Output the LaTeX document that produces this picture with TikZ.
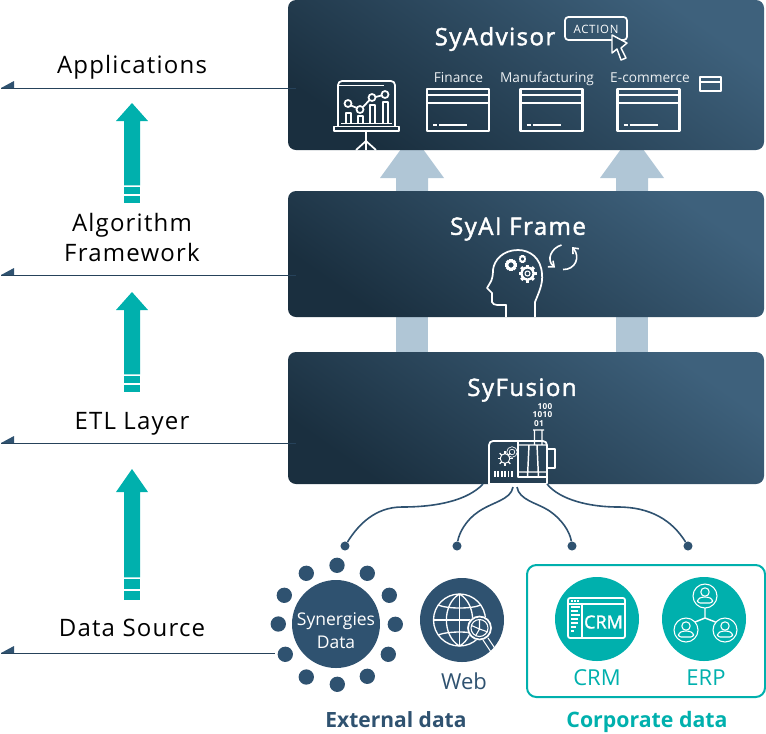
\documentclass[tikz,border=0pt]{standalone}
\usepackage{fontspec}
\setmainfont{Open Sans}
\newfontfamily\spaced[LetterSpace=5]{Open Sans}
\newfontfamily\spacedm[LetterSpace=6,FakeBold=1.8]{Open Sans}
\usetikzlibrary{calc,arrows.meta}
\definecolor{teal1}{HTML}{00B0AD}
\definecolor{navy}{HTML}{2F5270}
\definecolor{pale}{HTML}{B0C6D6}
\definecolor{paneld}{HTML}{1A2F3F}
\definecolor{panell}{HTML}{3E617C}
\newcommand{\px}[1]{\fontsize{\dimexpr #1pt*3/4\relax}{\dimexpr #1pt*9/10\relax}\selectfont}
\tikzset{
  x=0.75pt,y=-0.75pt,
  panel/.style={rounded corners=6pt,top color=panell,bottom color=paneld,shading angle=-35},
  pal/.style={fill=pale,draw=none},
  upar/.style={fill=teal1,draw=none},
  lay/.style={text=black,font=\spaced\px{24},align=center,inner sep=0,anchor=center},
  leader/.style={draw=navy!80!black,line width=0.9pt},
  wedge/.style={fill=navy,draw=none},
  wl/.style={draw=white,line width=1.3pt,line join=round},
  wm/.style={draw=white,line width=0.8pt,line join=round},
  cap1/.style={text=white,font=\spacedm\px{24},inner sep=0},
  sub1/.style={text=white!90!navy,font=\px{13.7},inner sep=0,anchor=base},
  link/.style={draw=navy,line width=1.2pt},
  dot1/.style={circle,fill=navy,minimum size=6.8pt,inner sep=0,draw=none},
  sat/.style={circle,fill=navy,minimum size=11.5pt,inner sep=0,draw=none},
  big/.style={circle,inner sep=0,draw=none},
  bits/.style={text=white,font=\bfseries\addfontfeature{LetterSpace=4}\px{8.2},inner sep=0},
}
\newcommand{\winicon}[1]{%
  \draw[wl,line width=1.6pt] (#1,89) rectangle ++(62,42);
  \draw[wm,line width=1.1pt] (#1,95) -- ++(62,0) (#1,103) -- ++(62,0);
  \draw[wm,line width=1.2pt] (#1+6,125) -- ++(4,0) (#1+12,125) -- ++(28,0);
}
\newcommand{\upteal}[5]{% tip, base, gap1, gap2, end
  \fill[upar] (132,#1) -- (148,#2) -- (140,#2) -- (140,#3-0.7) -- (124,#3-0.7) -- (124,#2) -- (116,#2) -- cycle;
  \fill[upar] (124,#3+1) rectangle (140,#4-1);
  \fill[upar] (124,#4+1) rectangle (140,#5);
}
\newcommand{\wedgeat}[1]{\fill[wedge] (1,#1) -- (14,#1-7) -- (14,#1) -- cycle;}
\newcommand{\geartooth}[4]{% x,y,r,width
  \draw[white,line width=#4] (#1,#2) circle (#3);
  \foreach \a in {0,45,...,315}{\draw[white,line width=#4*1.4] ($(#1,#2)+(\a:#3)$) -- ($(#1,#2)+(\a:#3*1.5)$);}
}
\newcommand{\person}[2]{%
  \draw[wm] (#1,#2) circle (12);
  \draw[wm] (#1,#2-4) circle (4.2);
  \draw[wm,rounded corners=2pt] (#1-7.5,#2+7) -- (#1-7.5,#2+3) -- (#1-3,#2+1) -- (#1+3,#2+1) -- (#1+7.5,#2+3) -- (#1+7.5,#2+7) -- cycle;
}
\begin{document}
\begin{tikzpicture}
\useasboundingbox (0,0) rectangle (766,733);
% pale arrows
\fill[pal] (412,134) -- (444,178) -- (428,178) -- (428,200) -- (396,200) -- (396,178) -- (380,178) -- cycle;
\fill[pal] (632,134) -- (664,178) -- (648,178) -- (648,200) -- (616,200) -- (616,178) -- (600,178) -- cycle;
\fill[pal] (396,310) rectangle (428,360);
\fill[pal] (616,310) rectangle (648,360);
% leader lines
\coordinate (l1) at (1,88.5); \coordinate (r1) at (296,88.5);
\coordinate (l2) at (1,275.5); \coordinate (r2) at (296,275.5);
\coordinate (l3) at (1,443.5); \coordinate (r3) at (296,443.5);
\coordinate (l4) at (1,653.5); \coordinate (r4) at (275,653.5);
% panels
\shade[panel] (288,0) rectangle (764,150);
\shade[panel] (288,191) rectangle (764,317);
\shade[panel] (288,352) rectangle (764,484);
\draw[leader] (l1) -- (r1); \wedgeat{88}
\draw[leader] (l2) -- (r2); \wedgeat{275}
\draw[leader] (l3) -- (r3); \wedgeat{443}
\draw[leader] (l4) -- (r4); \wedgeat{653}
% layer labels
\node[lay] (applications) at (132,67.5) {Applications};
\node[lay] (algorithm) at (132,225) {Algorithm};
\node[lay] (framework) at (132,252) {Framework};
\node[lay] (etl) at (132,424) {ETL Layer};
\node[lay] (datasource) at (132,628) {Data Source};
\upteal{103}{121}{186}{195}{203}
\upteal{292}{310}{375}{384}{392}
\upteal{469}{492}{578}{590}{600}
% SyAdvisor
\node[cap1] (syadvisor) at (495,39) {SyAdvisor};
\draw[wl,rounded corners=2.5pt] (565,17) rectangle (627,40);
\node[text=white,font=\addfontfeature{LetterSpace=6}\px{11.5},inner sep=0] (action) at (596,29) {ACTION};
\draw[wl,fill=paneld!50!panell,line width=1.1pt] (612,35) -- (612,53) -- (617,49) -- (621,60) -- (626,58) -- (621,48) -- (627,43) -- cycle;
\node[sub1] (finance) at (458.5,82) {Finance};
\node[sub1] (manufacturing) at (547,82) {Manufacturing};
\node[sub1] (ecommerce) at (650,82) {E-commerce};
\winicon{427} \winicon{520.5} \winicon{617.5}
\draw[wl,line width=1.5pt] (700,77) rectangle (721,91);
\draw[wm] (700,82) -- (721,82);
% presentation board
\draw[wl] (338,126) -- (338,85) arc[start angle=180,end angle=270,radius=4] -- (391,81) arc[start angle=-90,end angle=0,radius=4] -- (395,126);
\draw[wm] (338,85.5) -- (384,85.5);
\draw[wl] (334,126.5) rectangle (399,131);
\draw[wl] (366,131) -- (366,141) (366,141) -- (356,150) (366,141) -- (376,150) (366,141) -- (366,150);
\draw[wm,line width=1.1pt] (341,123.5) -- (392,123.5);
\draw[wm,line width=1.1pt] (346,123) -- (346,113) -- (351,113) -- (351,123);
\draw[wm,line width=1.1pt] (358,123) -- (358,116) -- (363,116) -- (363,123);
\draw[wm,line width=1.1pt] (370,123) -- (370,105) -- (375,105) -- (375,123);
\draw[wm,line width=1.1pt] (383,123) -- (383,102) -- (388,102) -- (388,123);
\draw[wl] (348,103.5) circle (3.5) (360,109.5) circle (3.5) (372,97.5) circle (3.5) (385,94.5) circle (3.5);
\draw[wl] (351,105.5) -- (357,108) (363,107) -- (369.5,100) (375.5,97) -- (381.5,95.5);
% SyAI Frame
\node[cap1] (syai) at (518,229) {SyAI Frame};
\draw[wl] (535,317) -- (535,302) .. controls (539,292) and (543,284) .. (542,274) .. controls (541,258) and (530,250) .. (518,250) .. controls (503,250) and (494,260) .. (493,270) .. controls (493,276) and (492,280) .. (490,283) -- (487,288) -- (492,293) -- (492,302) .. controls (493,306) and (500,305) .. (506,305) -- (506,317);
\geartooth{511}{265}{4}{1.8pt}
\geartooth{527.5}{273.5}{6}{1.7pt}
\draw[wm] (527.5,273.5) circle (2.5);
\geartooth{522.5}{259}{2.5}{1.1pt}
\draw[wl,line width=1.2pt,-{Straight Barb[length=3.5pt,width=6pt]}] (561.5,245) .. controls (551,248) and (546,260) .. (555,267.5);
\draw[wl,line width=1.2pt,-{Straight Barb[length=3.5pt,width=6pt]}] (563,269.5) .. controls (575,270) and (581,257) .. (572,247);
% SyFusion
\node[cap1] (syfusion) at (522,390) {SyFusion};
\node[bits] (bits1) at (545,407) {100};
\node[bits] (bits2) at (542.5,415) {1010};
\node[bits] (bits3) at (539,423.5) {01};
\coordinate (m1) at (483,484); \coordinate (m2) at (513,487); \coordinate (m3) at (517,487); \coordinate (m4) at (547,484);
\draw[wl] (489,484) -- (489,445) arc[start angle=180,end angle=270,radius=4] -- (543,441) arc[start angle=-90,end angle=0,radius=4] -- (547,484) -- cycle;
\draw[wm,line width=1.1pt] (518,441) -- (518,477) -- (547,477);
\draw[wl,line width=1.1pt] (547,449) -- (555,449) -- (555,468) -- (547,468);
\draw[wl,line width=1.1pt] (533,430) -- (544,430) (534.5,430) -- (534.5,445) (542,430) -- (542,445) (518,445) -- (547,445) (518,472) -- (547,472) (529,445) -- (527.5,477) (537,445) -- (538.5,477);
\draw[white,line width=0.7pt] (505,458.5) circle (4.8);
\foreach \a in {0,45,...,315}{\draw[white,line width=1pt] ($(505,458.5)+(\a:4.8)$) -- ($(505,458.5)+(\a:7.5)$);}
\draw[white,line width=0.5pt] (512,452) circle (2.8) (512,452) circle (5.3);
\foreach \q in {494,497.4,...,512}{\fill[white] (\q,470.5) rectangle (\q+1.8,477);}
% data sources
\node[big,fill=navy,minimum size=66pt] (syn) at (336,624) {};
\node[text=white,font=\px{17.5},inner sep=0,anchor=base] (syn1) at (336,625) {Synergies};
\node[text=white,font=\px{17.5},inner sep=0,anchor=base] (syn2) at (336,648) {Data};
\foreach \n/\x/\y in {a/337/565.3,b/367.3/573.3,c/389.3/595.3,d/395.3/624.3,e/388.3/654.3,f/367.3/676.3,g/337.3/684.3,h/306.3/677,i/285.3/654.3,j/278.3/624,k/284.3/595.3,l/306.3/573.3}
  {\node[sat] (sat\n) at (\x,\y) {};}
\node[big,fill=navy,minimum size=63pt] (web) at (462,620) {};
\draw[wm,line width=1pt] (459.5,620) circle (26);
\draw[wm,line width=1pt] (459.5,594) .. controls (442,604) and (442,636) .. (459.5,646);
\draw[wm,line width=1pt] (459.5,594) .. controls (477,604) and (477,636) .. (459.5,646);
\draw[wm,line width=1pt] (459.5,594) -- (459.5,646);
\draw[wm,line width=1.4pt] (433.5,620) -- (485.5,620);
\draw[wm,line width=1pt] (438,605) .. controls (448,609) and (471,609) .. (481,605);
\draw[wm,line width=1pt] (438,635) .. controls (448,631) and (471,631) .. (481,635);
\fill[navy] (479.5,628) circle (12.5);
\draw[wl] (479.5,628) circle (11.5);
\draw[wm] (479.5,628) circle (8.5);
\draw[wm] (471.5,625.5) -- (479.5,629) -- (488,632) (479.5,629) -- (479.5,620) (479.5,629) -- (475.5,636);
\draw[wm] (483,640) -- (491,652) (488,638) -- (496,650);
\node[text=navy,font=\px{22},inner sep=0] (weblbl) at (464,681) {Web};
\node[text=navy,font=\bfseries\px{21},inner sep=0] (external) at (396,720) {External data};
% corporate
\node[draw=teal1,line width=1.5pt,rounded corners=7pt,minimum width=178.5pt,minimum height=99pt,inner sep=0,fill=none] (corp) at (646,631) {};
\node[big,fill=teal1,minimum size=63pt] (crm) at (597,619) {};
\node[big,fill=teal1,minimum size=63pt] (erp) at (704,619) {};
\draw[wl,rounded corners=1.5pt] (568,598) rectangle (625,638);
\draw[wm,line width=1.1pt] (568,604) -- (625,604) (582,604) -- (582,638);
\foreach \q/\w in {607/9,611/7,615/9,619/7,623/7,627/5,631/3}{\draw[wm,line width=1.1pt] (571,\q) -- ++(\w,0);}
\foreach \q in {571,574,577}{\fill[white] (\q,600) rectangle ++(1.7,1.7);}
\node[text=white,font=\addfontfeature{FakeBold=1.5}\px{18},inner sep=0] (crmtxt) at (603.5,622) {CRM};
\person{705}{596}\person{686}{630}\person{725}{630}
\coordinate (joint) at (705,618);
\draw[wm,line width=1.1pt] (705,608) -- (joint) (joint) -- (695,622) (joint) -- (715.5,622);
\node[text=teal1,font=\px{22},inner sep=0] (crmlbl) at (597,678) {CRM};
\node[text=teal1,font=\px{22},inner sep=0] (erplbl) at (706,678) {ERP};
\node[text=teal1,font=\bfseries\px{21.3},inner sep=0] (corplbl) at (647,722) {Corporate data};
% connector dots and curves
\node[dot1] (d1) at (345,546) {};
\node[dot1] (d2) at (457,546) {};
\node[dot1] (d3) at (572,546) {};
\node[dot1] (d4) at (688,546) {};
\draw[link] (m1) .. controls (468,500) and (438,507) .. (402,507) .. controls (375,507) and (358,525) .. (d1);
\draw[link] (m2) .. controls (511,500) and (492,502) .. (478,512) .. controls (466,520) and (459,533) .. (d2);
\draw[link] (m3) .. controls (519,500) and (537,503) .. (548,510) .. controls (562,519) and (570,532) .. (d3);
\draw[link] (m4) .. controls (560,500) and (590,507) .. (618,507) .. controls (650,507) and (672,520) .. (d4);
\end{tikzpicture}
\end{document}
